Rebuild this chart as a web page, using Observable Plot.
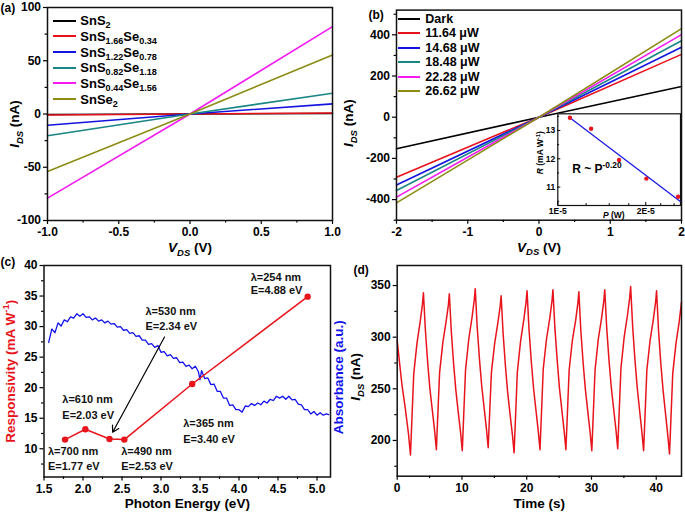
<!DOCTYPE html>
<html>
<head>
<meta charset="utf-8">
<script src="https://cdn.jsdelivr.net/npm/d3@7"></script>
<script src="https://cdn.jsdelivr.net/npm/@observablehq/plot@0.6"></script>
<style>
  html, body { margin: 0; padding: 0; background: #fff; }
  #fig { position: relative; width: 685px; height: 514px; overflow: hidden; background: #fff;
         font-family: Arial, "Liberation Sans", sans-serif; }
  #fig svg { position: absolute; overflow: visible; }
  .legend { position: absolute; font-weight: bold; color: #000; white-space: nowrap; z-index: 5; }
  .legend .row { display: flex; align-items: center; }
  .legend .sw { display: inline-block; height: 0; border-top: 2px solid; }
  .legend sub { font-size: 70%; vertical-align: -0.3em; line-height: 0; }
</style>
</head>
<body>
<div id="fig"></div>
<script>
// ---------------- (a) I-V of alloys ----------------
const aVoltage = [-1, 0, 1];
const aNames = ["SnS_{2}", "SnS_{1.66}Se_{0.34}", "SnS_{1.22}Se_{0.78}", "SnS_{0.82}Se_{1.18}", "SnS_{0.44}Se_{1.56}", "SnSe_{2}"];
const aColors = ["#000000", "#e8101a", "#1414e0", "#1a8585", "#f21cf0", "#8c8c14"];
const aSnS2 = [-0.4, 0, 0.5];
const aSnS166Se034 = [-1.0, 0, 1.0];
const aSnS122Se078 = [-10.5, 0, 9.5];
const aSnS082Se118 = [-20.5, 0, 19.5];
const aSnS044Se156 = [-79, 0, 82];
const aSnSe2 = [-54, 0, 55.5];
const aXTicks = [-1, -0.5, 0, 0.5, 1];
const aXMinor = [-0.75, -0.25, 0.25, 0.75];
const aYTicks = [-100, -50, 0, 50, 100];
const aYMinor = [-75, -25, 25, 75];

// ---------------- (b) I-V under illumination ----------------
const bVoltage = [-2, 0, 2];
const bNames = ["Dark", "11.64 μW", "14.68 μW", "18.48 μW", "22.28 μW", "26.62 μW"];
const bColors = ["#000000", "#e8101a", "#1414e0", "#1a8585", "#f21cf0", "#8c8c14"];
const bDark = [-153, 0, 149];
const b1164 = [-291, 0, 305];
const b1468 = [-329, 0, 340];
const b1848 = [-356, 0, 371];
const b2228 = [-388, 0, 401];
const b2662 = [-416, 0, 430];
const bXTicks = [-2, -1, 0, 1, 2];
const bXMinor = [-1.5, -0.5, 0.5, 1.5];
const bYTicks = [-400, -200, 0, 200, 400];
const bYMinor = [-500, -300, -100, 100, 300, 500];

// ---------------- (b) inset: R vs P ----------------
const insetP = [1.10e-5, 1.30e-5, 1.62e-5, 2.01e-5, 2.58e-5];
const insetR = [13.45, 13.06, 11.96, 11.30, 10.66];
const insetFitP = [1.10e-5, 2.62e-5];
const insetFitR = [13.45, 10.50];
const insetXTicks = [1e-5, 2e-5];
const insetXMinor = [1.25e-5, 1.5e-5, 1.75e-5, 2.25e-5, 2.5e-5];
const insetYTicks = [11, 12, 13];
const insetYMinor = [10.5, 11.5, 12.5, 13.5];

// ---------------- (c) responsivity & absorbance ----------------
const cEnergy = [1.77, 2.03, 2.34, 2.53, 3.40, 4.88];
const cResp = [11.5, 13.2, 11.6, 11.5, 20.6, 34.9];
const absEnergy = [1.56, 1.60, 1.64, 1.68, 1.72, 1.76, 1.80, 1.84, 1.88, 1.92, 1.96, 2.00, 2.04, 2.08, 2.12, 2.16, 2.20, 2.24, 2.28, 2.32,
  2.36, 2.40, 2.44, 2.48, 2.52, 2.56, 2.60, 2.64, 2.68, 2.72, 2.76, 2.80, 2.84, 2.88, 2.92, 2.96, 3.00, 3.04, 3.08, 3.12,
  3.16, 3.20, 3.24, 3.28, 3.32, 3.36, 3.40, 3.44, 3.48, 3.50, 3.52, 3.56, 3.60, 3.64, 3.68, 3.72, 3.76, 3.80, 3.84, 3.88,
  3.92, 3.96, 4.00, 4.04, 4.08, 4.12, 4.16, 4.20, 4.24, 4.28, 4.32, 4.36, 4.40, 4.44, 4.48, 4.52, 4.56, 4.60, 4.64, 4.68,
  4.72, 4.76, 4.80, 4.84, 4.88, 4.92, 4.96, 5.00, 5.04, 5.08, 5.12, 5.15];
const absValue = [27.4, 29.6, 29.0, 30.6, 30.1, 31.1, 30.8, 31.6, 31.4, 32.1, 31.7, 32.1, 31.5, 31.6, 31.1, 31.4, 30.9, 31.1, 30.6, 30.9,
  30.4, 30.5, 29.9, 30.0, 29.4, 29.5, 28.9, 29.0, 28.4, 28.5, 27.8, 27.8, 27.1, 27.2, 26.6, 26.9, 25.8, 25.9, 25.2, 25.4,
  24.8, 24.9, 24.1, 24.2, 23.5, 23.7, 23.1, 23.5, 22.6, 21.3, 22.8, 21.5, 21.6, 20.5, 20.6, 19.4, 19.4, 18.3, 18.3, 17.1,
  17.2, 16.4, 16.4, 16.0, 17.0, 16.9, 17.4, 17.1, 17.5, 17.2, 17.8, 17.5, 18.1, 17.9, 18.6, 18.3, 18.6, 18.1, 18.6, 18.0,
  18.1, 17.3, 17.2, 16.4, 16.4, 15.7, 16.1, 15.5, 15.9, 15.5, 15.7, 15.6];
const cNotes = [
  {t: "λ=254 nm", x: 4.15, y: 38.1}, {t: "E=4.88 eV", x: 4.15, y: 35.9},
  {t: "λ=530 nm", x: 2.80, y: 32.5}, {t: "E=2.34 eV", x: 2.80, y: 30.1},
  {t: "λ=610 nm", x: 1.735, y: 18.1}, {t: "E=2.03 eV", x: 1.735, y: 15.4},
  {t: "λ=700 nm", x: 1.55, y: 9.6}, {t: "E=1.77 eV", x: 1.55, y: 7.1},
  {t: "λ=490 nm", x: 2.49, y: 9.6}, {t: "E=2.53 eV", x: 2.49, y: 7.1},
  {t: "λ=365 nm", x: 3.285, y: 14.1}, {t: "E=3.40 eV", x: 3.285, y: 11.6}
];
const cArrow = {x1: 3.045, y1: 28.3, x2: 2.38, y2: 12.7};
const cXTicks = [1.5, 2.0, 2.5, 3.0, 3.5, 4.0, 4.5, 5.0];
const cXMinor = [1.75, 2.25, 2.75, 3.25, 3.75, 4.25, 4.75];
const cYTicks = [10, 15, 20, 25, 30, 35, 40];
const cYMinor = [7.5, 12.5, 17.5, 22.5, 27.5, 32.5, 37.5];

// ---------------- (d) switching ----------------
const dTime = [
  0, 0.35, 0.75, 1.25, 1.75, 2.05,
  2.3, 2.55, 3.05, 3.55, 3.9, 4.05, 4.35, 4.7, 5.05, 5.45, 5.8, 6.05,
  6.3, 6.55, 7.05, 7.55, 7.9, 8.05, 8.35, 8.7, 9.05, 9.45, 9.8, 10.05,
  10.3, 10.55, 11.05, 11.55, 11.9, 12.05, 12.35, 12.7, 13.05, 13.45, 13.8, 14.05,
  14.3, 14.55, 15.05, 15.55, 15.9, 16.05, 16.35, 16.7, 17.05, 17.45, 17.8, 18.05,
  18.3, 18.55, 19.05, 19.55, 19.9, 20.05, 20.35, 20.7, 21.05, 21.45, 21.8, 22.05,
  22.3, 22.55, 23.05, 23.55, 23.9, 24.05, 24.35, 24.7, 25.05, 25.45, 25.8, 26.05,
  26.3, 26.55, 27.05, 27.55, 27.9, 28.05, 28.35, 28.7, 29.05, 29.45, 29.8, 30.05,
  30.3, 30.55, 31.05, 31.55, 31.9, 32.05, 32.35, 32.7, 33.05, 33.45, 33.8, 34.05,
  34.3, 34.55, 35.05, 35.55, 35.9, 36.05, 36.35, 36.7, 37.05, 37.45, 37.8, 38.05,
  38.3, 38.55, 39.05, 39.55, 39.9, 40.05, 40.35, 40.7, 41.05, 41.45, 41.8, 42.05,
  42.3, 42.55, 43.05, 43.55, 43.9];
const dCurrent = [
  297, 276, 253, 231, 206, 186,
  225, 264, 294, 315, 332, 343, 307, 276, 250, 228, 208, 191,
  229, 266, 295, 315, 331, 342, 306, 275, 249, 226, 207, 190,
  229, 268, 298, 319, 336, 347, 310, 279, 253, 230, 210, 193,
  230, 266, 294, 314, 330, 340, 304, 273, 247, 224, 205, 188,
  227, 266, 296, 317, 334, 345, 308, 277, 251, 228, 208, 191,
  230, 269, 298, 318, 335, 346, 309, 278, 251, 228, 208, 191,
  229, 268, 297, 316, 333, 344, 307, 276, 250, 227, 207, 190,
  229, 268, 298, 318, 335, 346, 309, 278, 252, 229, 209, 192,
  231, 270, 300, 321, 338, 349, 311, 279, 252, 228, 207, 190,
  229, 268, 297, 317, 334, 345, 307, 275, 249, 225, 204, 187,
  226, 265, 294, 315, 334];
const dXTicks = [0, 10, 20, 30, 40];
const dXMinor = [5, 15, 25, 35];
const dYTicks = [200, 250, 300, 350];
const dYMinor = [175, 225, 275, 325];

// ---------------- helpers ----------------
const FONT = 'Arial, "Liberation Sans", sans-serif';
const st = {fontFamily: FONT, fontWeight: "bold", fontSize: "12px", color: "#000", background: "transparent", overflow: "visible"};
const fig = document.getElementById("fig");
const MID = {textAnchor: "middle", lineAnchor: "middle", fontWeight: "bold"};
const LEFT = {textAnchor: "start", lineAnchor: "middle", fontWeight: "bold"};
const TITLE = 13.5;

function segs(str) {
  const out = []; let mode = "base", it = false, buf = "";
  const push = () => { if (buf) { out.push({t: buf, mode, it}); buf = ""; } };
  for (let i = 0; i < str.length; i++) {
    const c = str[i];
    if ((c === "_" || c === "^") && str[i + 1] === "{") { push(); mode = c === "_" ? "sub" : "sup"; i++; continue; }
    if (c === "}" && mode !== "base") { push(); mode = "base"; continue; }
    if (c === "*") { push(); it = !it; continue; }
    buf += c;
  }
  push();
  return out;
}
function htmlRich(str) {
  return segs(str).map(s => {
    let h = s.t;
    if (s.it) h = `<i>${h}</i>`;
    if (s.mode === "sub") h = `<sub>${h}</sub>`;
    if (s.mode === "sup") h = `<sup>${h}</sup>`;
    return h;
  }).join("");
}
function svgRich(el, str, size) {
  el.textContent = "";
  let cur = 0;
  for (const s of segs(str)) {
    const target = s.mode === "sub" ? size * 0.28 : s.mode === "sup" ? -size * 0.4 : 0;
    const ts = document.createElementNS("http://www.w3.org/2000/svg", "tspan");
    if (target !== cur) ts.setAttribute("dy", target - cur);
    cur = target;
    if (s.mode !== "base") ts.setAttribute("font-size", size * 0.7);
    if (s.it) ts.setAttribute("font-style", "italic");
    ts.textContent = s.t;
    el.appendChild(ts);
  }
}
function place(svg, left, top) {
  svg.style.left = left + "px";
  svg.style.top = top + "px";
  fig.appendChild(svg);
  svg.querySelectorAll("text").forEach(el => {
    const s = el.textContent;
    if (/[_^]\{|\*/.test(s)) {
      const anchor = getComputedStyle(el).textAnchor;
      svgRich(el, s, parseFloat(getComputedStyle(el).fontSize));
      if (anchor === "middle") {
        const len = el.getComputedTextLength();
        el.setAttribute("text-anchor", "start");
        el.setAttribute("x", -len / 2);
      }
    }
  });
}
function axes(o) {
  const ts = o.ts ?? 4;
  const m = [
    Plot.axisX({ticks: o.xt, tickSize: ts, tickPadding: 3, tickFormat: o.xf, label: null, strokeWidth: 1.2}),
    Plot.axisY({ticks: o.yt, tickSize: ts, tickPadding: 2.5, tickFormat: o.yf, label: null, strokeWidth: 1.2})
  ];
  if (o.xm) m.push(Plot.axisX({ticks: o.xm, tickSize: ts * 0.6, tickFormat: () => "", label: null, strokeWidth: 1.2}));
  if (o.ym) m.push(Plot.axisY({ticks: o.ym, tickSize: ts * 0.6, tickFormat: () => "", label: null, strokeWidth: 1.2}));
  return m;
}
function legend(names, colors, left, top, rowH, swW, gap, fontSize) {
  const div = document.createElement("div");
  div.className = "legend";
  div.style.left = left + "px"; div.style.top = top + "px"; div.style.fontSize = fontSize + "px";
  names.forEach((n, i) => {
    const row = document.createElement("div");
    row.className = "row"; row.style.height = rowH + "px";
    row.innerHTML = `<span class="sw" style="width:${swW}px;margin-right:${gap}px;border-top-color:${colors[i]}"></span><span>${htmlRich(n)}</span>`;
    div.appendChild(row);
  });
  fig.appendChild(div);
}
const fmt1 = d => d.toFixed(1);
const fmt0 = d => String(d);

// ---------------- build (a) ----------------
const aSeries = [aSnS2, aSnS166Se034, aSnS122Se078, aSnS082Se118, aSnS044Se156, aSnSe2];
const aRows = aNames.flatMap((s, k) => aVoltage.map((v, j) => ({s, v, i: aSeries[k][j]})));
const plotA = Plot.plot({
  width: 342, height: 257, marginLeft: 47, marginRight: 10, marginTop: 7, marginBottom: 37,
  x: {domain: [-1, 1], axis: null}, y: {domain: [-100, 100], axis: null},
  color: {domain: aNames, range: aColors},
  style: st,
  marks: [
    Plot.line(aRows, {x: "v", y: "i", z: "s", stroke: "s", strokeWidth: 1.6}),
    Plot.frame({stroke: "#111", strokeWidth: 1.5}),
    ...axes({xt: aXTicks, xm: aXMinor, yt: aYTicks, ym: aYMinor, xf: fmt1, yf: fmt0}),
    Plot.text(["*V*_{*DS*} (V)"], {...MID, frameAnchor: "bottom", dy: 27, fontSize: TITLE}),
    Plot.text(["*I*_{*DS*} (nA)"], {...MID, frameAnchor: "left", rotate: -90, dx: -33, dy: 10, fontSize: TITLE}),
    Plot.text(["(a)"], {...LEFT, frameAnchor: "top-left", dx: -47, dy: 0.5, fontSize: 12})
  ]
});
place(plotA, 0, 0);

// ---------------- build (b) ----------------
const bSeries = [bDark, b1164, b1468, b1848, b2228, b2662];
const bRows = bNames.flatMap((s, k) => bVoltage.map((v, j) => ({s, v, i: bSeries[k][j]})));
const plotB = Plot.plot({
  width: 343, height: 257, marginLeft: 54, marginRight: 4, marginTop: 9.6, marginBottom: 37.3,
  x: {domain: [-2, 2], axis: null}, y: {domain: [-500, 520], axis: null},
  color: {domain: bNames, range: bColors},
  style: st,
  marks: [
    Plot.line(bRows, {x: "v", y: "i", z: "s", stroke: "s", strokeWidth: 1.6}),
    Plot.frame({stroke: "#111", strokeWidth: 1.5}),
    ...axes({xt: bXTicks, xm: bXMinor, yt: bYTicks, ym: bYMinor, xf: fmt0, yf: fmt0}),
    Plot.text(["*V*_{*DS*} (V)"], {...MID, frameAnchor: "bottom", dy: 27, fontSize: TITLE}),
    Plot.text(["*I*_{*DS*} (nA)"], {...MID, frameAnchor: "left", rotate: -90, dx: -48, dy: 8, fontSize: TITLE}),
    Plot.text(["(b)"], {...LEFT, frameAnchor: "top-left", dx: -28, dy: 5.4, fontSize: 12})
  ]
});
place(plotB, 342, 0);

// ---------------- inset ----------------
const insetRows = insetP.map((p, i) => ({p, r: insetR[i]}));
const fitRows = insetFitP.map((p, i) => ({p, r: insetFitR[i]}));
const fmtE = d => Math.round(d * 1e5) + "E-5";
const plotInset = Plot.plot({
  width: 165, height: 125, marginLeft: 37.3, marginRight: 5, marginTop: 13.3, marginBottom: 20,
  x: {type: "log", domain: [1e-5, 2.63e-5], axis: null},
  y: {domain: [10.35, 13.59], axis: null},
  style: {...st, fontSize: "8.5px"},
  marks: [
    Plot.frame({fill: "white", stroke: "#111", strokeWidth: 1.2}),
    Plot.line(fitRows, {x: "p", y: "r", stroke: "#1a1ae6", strokeWidth: 1.3}),
    Plot.dot(insetRows, {x: "p", y: "r", r: 2.2, fill: "#e8141c"}),
    Plot.axisX({ticks: insetXTicks, tickSize: 0, tickPadding: 2.5, tickFormat: fmtE, label: null}),
    Plot.axisX({ticks: insetXTicks, tickSize: -3, tickFormat: () => "", label: null}),
    Plot.axisX({ticks: insetXMinor, tickSize: -1.8, tickFormat: () => "", label: null}),
    Plot.axisY({ticks: insetYTicks, tickSize: 0, tickPadding: 2.5, tickFormat: fmt0, label: null}),
    Plot.axisY({ticks: insetYTicks, tickSize: -3, tickFormat: () => "", label: null}),
    Plot.axisY({ticks: insetYMinor, tickSize: -1.8, tickFormat: () => "", label: null}),
    Plot.text(["*R* (mA W^{-1})"], {...MID, frameAnchor: "left", rotate: -90, dx: -17.3, dy: -7, fontSize: 8.5}),
    Plot.text(["*P* (W)"], {...MID, frameAnchor: "bottom", dx: -5.4, dy: 10, fontSize: 8.5}),
    Plot.text(["R ~ P^{-0.20}"], {...LEFT, frameAnchor: "top-left", dx: 14.4, dy: 55, fontSize: 12})
  ]
});
place(plotInset, 520, 100);

// ---------------- build (c) ----------------
const cRows = cEnergy.map((e, i) => ({e, r: cResp[i]}));
const absRows = absEnergy.map((e, i) => ({e, a: absValue[i]}));
const plotC = Plot.plot({
  width: 345, height: 257, marginLeft: 43.5, marginRight: 15, marginTop: 8, marginBottom: 37.5,
  x: {domain: [1.5, 5.173], axis: null}, y: {domain: [5.38, 40], axis: null},
  style: st,
  marks: [
    Plot.line(absRows, {x: "e", y: "a", stroke: "#1212ee", strokeWidth: 1.3}),
    Plot.line(cRows, {x: "e", y: "r", stroke: "#e8141c", strokeWidth: 1.5}),
    Plot.dot(cRows, {x: "e", y: "r", r: 3.2, fill: "#e8141c"}),
    Plot.text(cNotes, {...LEFT, x: "x", y: "y", text: "t", fontSize: 11, fill: "#111"}),
    Plot.arrow([cArrow], {x1: "x1", y1: "y1", x2: "x2", y2: "y2", stroke: "#000", strokeWidth: 1.2, headLength: 9}),
    Plot.frame({stroke: "#111", strokeWidth: 1.5}),
    ...axes({xt: cXTicks, xm: cXMinor, yt: cYTicks, ym: cYMinor, xf: fmt1, yf: fmt0}),
    Plot.text(["Photon Energy (eV)"], {...MID, frameAnchor: "bottom", dy: 26.5, fontSize: TITLE}),
    Plot.text(["Responsivity (mA W^{-1})"], {...MID, frameAnchor: "left", rotate: -90, dx: -33.5, dy: 0, fontSize: TITLE, fill: "#e8141c"}),
    Plot.text(["Absorbance (a.u.)"], {...MID, frameAnchor: "right", rotate: -90, dx: 8, dy: 6, fontSize: TITLE, fill: "#1212ee"}),
    Plot.text(["(c)"], {...LEFT, frameAnchor: "top-left", dx: -43.5, dy: -3, fontSize: 12})
  ]
});
place(plotC, 0, 257);

// ---------------- build (d) ----------------
const dRows = dTime.map((t, i) => ({t, i: dCurrent[i]}));
const plotD = Plot.plot({
  width: 340, height: 257, marginLeft: 51.7, marginRight: 4, marginTop: 8, marginBottom: 38.3,
  x: {domain: [0, 43.9], axis: null}, y: {domain: [165.4, 369.4], axis: null},
  style: st,
  marks: [
    Plot.line(dRows, {x: "t", y: "i", stroke: "#e8141c", strokeWidth: 1.5}),
    Plot.frame({stroke: "#111", strokeWidth: 1.5}),
    ...axes({xt: dXTicks, xm: dXMinor, yt: dYTicks, ym: dYMinor, xf: fmt0, yf: fmt0}),
    Plot.text(["Time (s)"], {...MID, frameAnchor: "bottom", dy: 27, fontSize: TITLE}),
    Plot.text(["*I*_{*DS*} (nA)"], {...MID, frameAnchor: "left", rotate: -90, dx: -41.7, dy: 6, fontSize: TITLE}),
    Plot.text(["(d)"], {...LEFT, frameAnchor: "top-left", dx: -43.7, dy: 5, fontSize: 12})
  ]
});
place(plotD, 345, 257);

// ---------------- legends ----------------
legend(aNames, aColors, 53.3, 12.85, 15.7, 23, 4, 13);
legend(bNames, bColors, 398.3, 11.8, 14.4, 22, 5, 12.5);
</script>
</body>
</html>
